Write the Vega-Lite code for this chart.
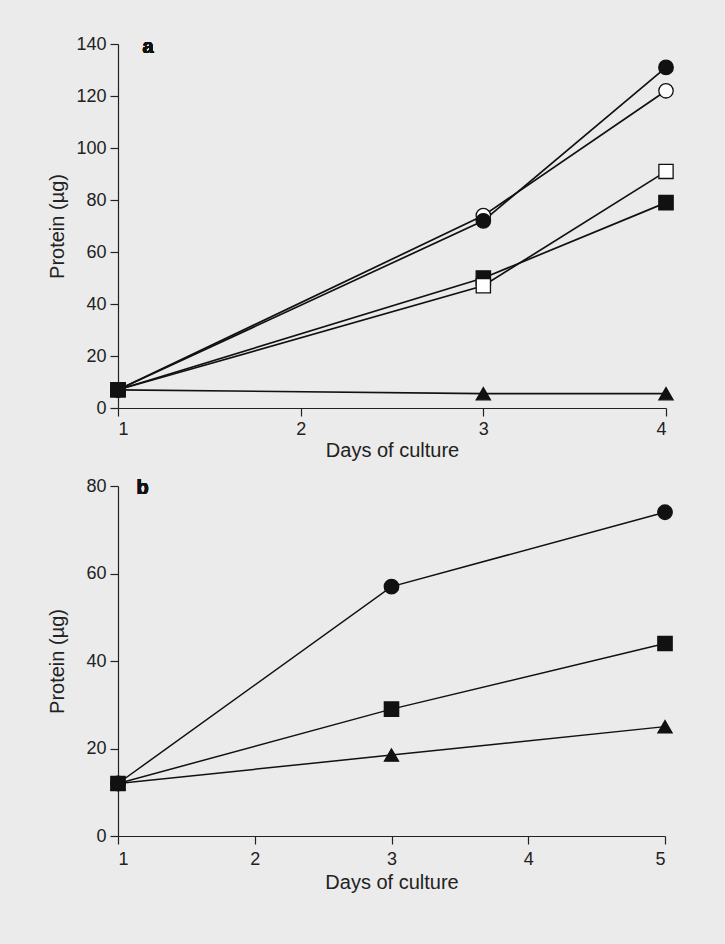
{
  "$schema": "https://vega.github.io/schema/vega-lite/v6.json",
  "background": "#ebebeb",
  "padding": {"left": 47, "top": 35, "right": 49, "bottom": 53},
  "spacing": 17,
  "config": {
    "font": "Liberation Sans",
    "view": {"stroke": null},
    "text": {"font": "Liberation Sans"},
    "axis": {
      "grid": false,
      "domainColor": "#222222",
      "tickColor": "#222222",
      "domainWidth": 1.2,
      "tickWidth": 1.2,
      "tickSize": 8,
      "labelFont": "Liberation Sans",
      "titleFont": "Liberation Sans",
      "labelFontSize": 18,
      "titleFontSize": 20,
      "labelColor": "#222222",
      "titleColor": "#222222",
      "titleFontWeight": "normal",
      "labelPadding": 4,
      "format": "d"
    }
  },
  "data": {
    "values": [
      {"panel": "a", "series": "open circle", "day": 1, "protein": 7},
      {"panel": "a", "series": "open circle", "day": 3, "protein": 74},
      {"panel": "a", "series": "open circle", "day": 4, "protein": 122},
      {"panel": "a", "series": "filled circle", "day": 1, "protein": 7},
      {"panel": "a", "series": "filled circle", "day": 3, "protein": 72},
      {"panel": "a", "series": "filled circle", "day": 4, "protein": 131},
      {"panel": "a", "series": "filled square", "day": 3, "protein": 50},
      {"panel": "a", "series": "filled square", "day": 4, "protein": 79},
      {"panel": "a", "series": "open square", "day": 1, "protein": 7},
      {"panel": "a", "series": "open square", "day": 3, "protein": 47},
      {"panel": "a", "series": "open square", "day": 4, "protein": 91},
      {"panel": "a", "series": "triangle", "day": 1, "protein": 7},
      {"panel": "a", "series": "triangle", "day": 3, "protein": 5.5},
      {"panel": "a", "series": "triangle", "day": 4, "protein": 5.5},
      {"panel": "a", "series": "filled square", "day": 1, "protein": 7},
      {"panel": "b", "series": "triangle", "day": 1, "protein": 12},
      {"panel": "b", "series": "triangle", "day": 3, "protein": 18.5},
      {"panel": "b", "series": "triangle", "day": 5, "protein": 25},
      {"panel": "b", "series": "filled square", "day": 1, "protein": 12},
      {"panel": "b", "series": "filled square", "day": 3, "protein": 29},
      {"panel": "b", "series": "filled square", "day": 5, "protein": 44},
      {"panel": "b", "series": "filled circle", "day": 1, "protein": 12},
      {"panel": "b", "series": "filled circle", "day": 3, "protein": 57},
      {"panel": "b", "series": "filled circle", "day": 5, "protein": 74}
    ]
  },
  "vconcat": [
    {
      "width": 548,
      "height": 364,
      "transform": [{"filter": "datum.panel == 'a'"}],
      "layer": [
        {
          "mark": {"type": "line", "color": "#111111", "strokeWidth": 1.7},
          "encoding": {
            "x": {"field": "day", "type": "quantitative", "scale": {"domain": [1, 4], "nice": false}, "axis": {"values": [1, 2, 3, 4], "title": "Days of culture", "titlePadding": 2}},
            "y": {"field": "protein", "type": "quantitative", "scale": {"domain": [0, 140], "nice": false}, "axis": {"values": [0, 20, 40, 60, 80, 100, 120, 140], "title": "Protein (µg)", "titleX": -51}},
            "detail": {"field": "series"}
          }
        },
        {
          "mark": {"type": "point", "filled": true, "stroke": "#111111", "strokeWidth": 1.3, "opacity": 1},
          "encoding": {
            "x": {"field": "day", "type": "quantitative"},
            "y": {"field": "protein", "type": "quantitative"},
            "shape": {"field": "series", "type": "nominal", "legend": null, "scale": {"domain": ["filled circle", "open circle", "filled square", "open square", "triangle"], "range": ["circle", "circle", "square", "square", "triangle-up"]}},
            "fill": {"field": "series", "type": "nominal", "legend": null, "scale": {"domain": ["filled circle", "open circle", "filled square", "open square", "triangle"], "range": ["#111111", "#ffffff", "#111111", "#ffffff", "#111111"]}},
            "size": {"field": "series", "type": "nominal", "legend": null, "scale": {"domain": ["filled circle", "open circle", "filled square", "open square", "triangle"], "range": [210, 200, 180, 170, 120]}}
          }
        },
        {
          "mark": {"type": "text", "text": "a", "font": "Liberation Sans", "fontWeight": "bold", "fontSize": 20, "align": "center", "baseline": "middle", "color": "#111111"},
          "encoding": {"x": {"datum": 1.165}, "y": {"datum": 139}}
        }
      ]
    },
    {
      "width": 547,
      "height": 350,
      "transform": [{"filter": "datum.panel == 'b'"}],
      "layer": [
        {
          "mark": {"type": "line", "color": "#111111", "strokeWidth": 1.5},
          "encoding": {
            "x": {"field": "day", "type": "quantitative", "scale": {"domain": [1, 5], "nice": false}, "axis": {"values": [1, 2, 3, 4, 5], "title": "Days of culture", "titlePadding": 4, "labelPadding": 6}},
            "y": {"field": "protein", "type": "quantitative", "scale": {"domain": [0, 80], "nice": false}, "axis": {"values": [0, 20, 40, 60, 80], "title": "Protein (µg)", "titleX": -51}},
            "detail": {"field": "series"}
          }
        },
        {
          "mark": {"type": "point", "filled": true, "stroke": "#111111", "strokeWidth": 1.3, "opacity": 1},
          "encoding": {
            "x": {"field": "day", "type": "quantitative"},
            "y": {"field": "protein", "type": "quantitative"},
            "shape": {"field": "series", "type": "nominal", "legend": null, "scale": {"domain": ["filled circle", "open circle", "filled square", "open square", "triangle"], "range": ["circle", "circle", "square", "square", "triangle-up"]}},
            "fill": {"field": "series", "type": "nominal", "legend": null, "scale": {"domain": ["filled circle", "open circle", "filled square", "open square", "triangle"], "range": ["#111111", "#ffffff", "#111111", "#ffffff", "#111111"]}},
            "size": {"field": "series", "type": "nominal", "legend": null, "scale": {"domain": ["filled circle", "open circle", "filled square", "open square", "triangle"], "range": [210, 200, 180, 170, 120]}}
          }
        },
        {
          "mark": {"type": "text", "text": "b", "font": "Liberation Sans", "fontWeight": "bold", "fontSize": 20, "align": "center", "baseline": "middle", "color": "#111111"},
          "encoding": {"x": {"datum": 1.18}, "y": {"datum": 79.5}}
        }
      ]
    }
  ]
}
